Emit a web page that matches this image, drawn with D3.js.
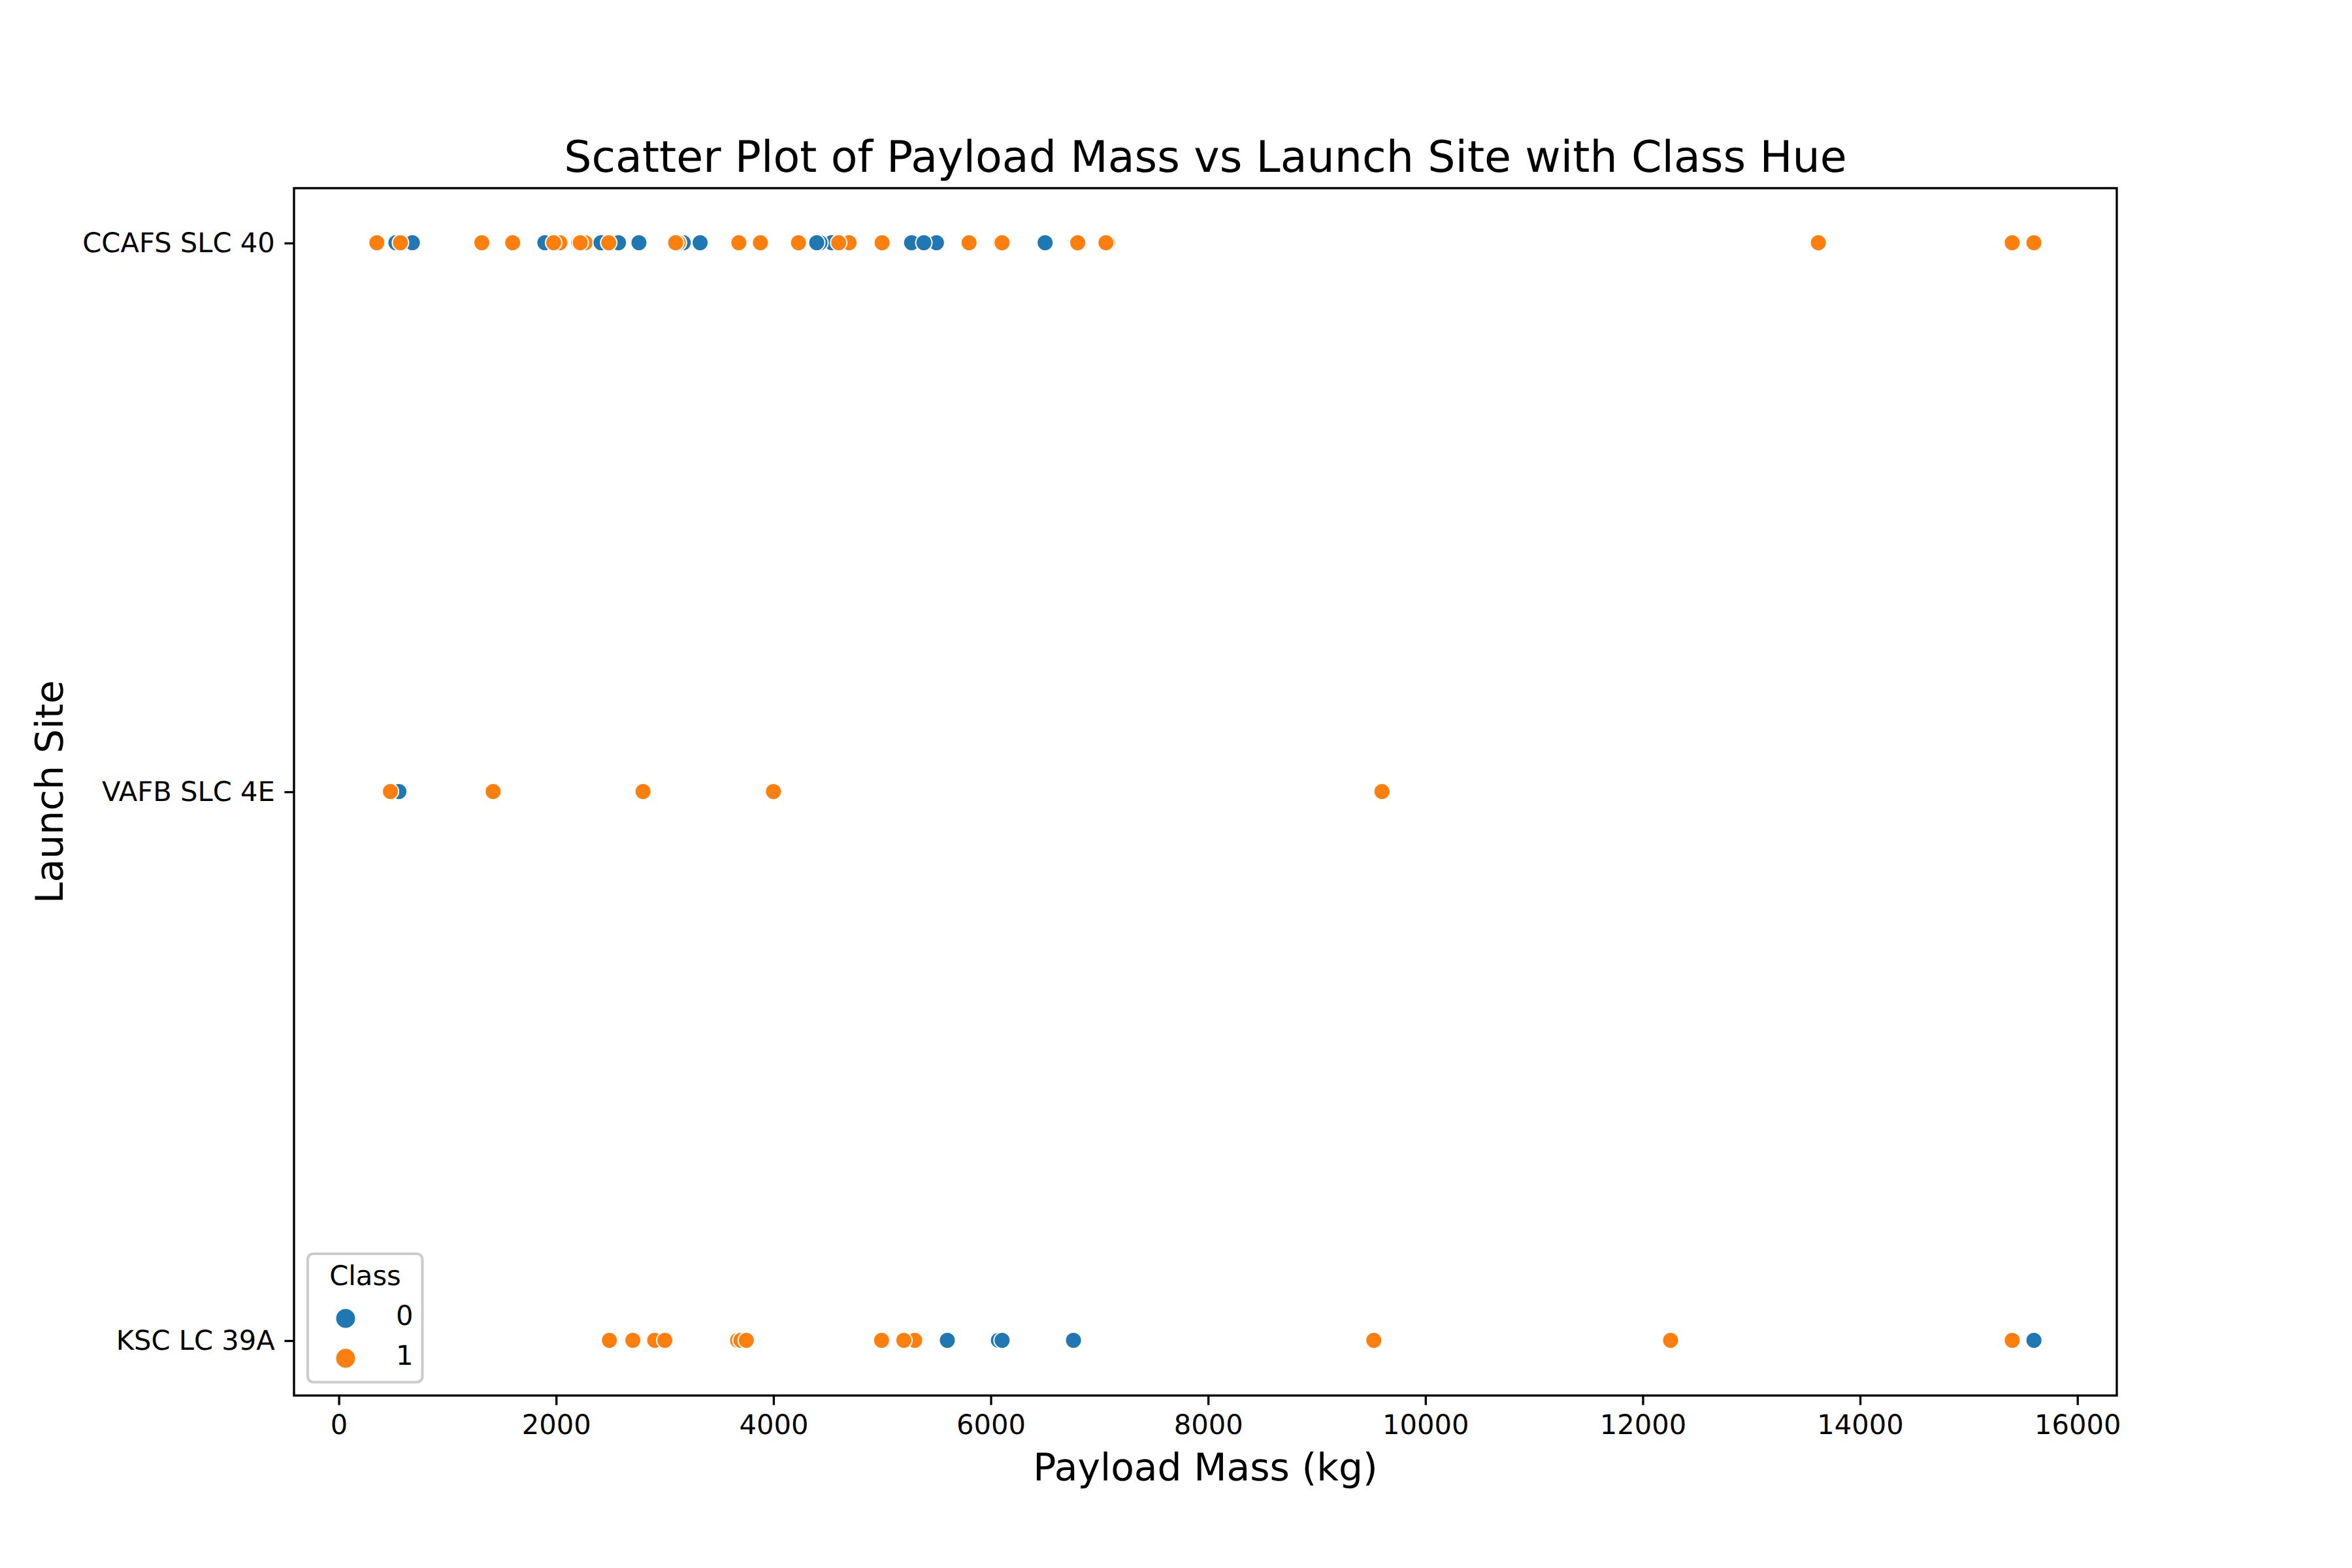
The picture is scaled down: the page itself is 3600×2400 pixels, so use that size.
<!DOCTYPE html>
<html>
<head>
<meta charset="utf-8">
<script src="https://cdn.jsdelivr.net/npm/d3@7"></script>
<style>
html,body{margin:0;padding:0;background:#fff}
svg{display:block}
text{font-family:"DejaVu Sans";fill:#000;text-rendering:geometricPrecision}
</style>
</head>
<body>
<script>
const sites = ["CCAFS SLC 40", "VAFB SLC 4E", "KSC LC 39A"];
const classes = [0, 1];
const classColors = ["#1f77b4", "#ff7f0e"];
const xTicks = [0, 2000, 4000, 6000, 8000, 10000, 12000, 14000, 16000];

const ccafsMass = [525, 677, 567, 350, 1316, 1600, 1896, 2034, 1977, 2207, 2267, 2222, 2574, 2413, 2484, 2762, 3170, 3125, 3100, 3325, 3681, 3880, 4230, 4535, 4428, 4398, 4696, 4600, 5000, 5271, 5500, 5384, 5800, 6090, 6104, 6500, 6800, 7076, 7060, 13616, 15400, 15600];
const ccafsClass = [0, 0, 1, 1, 1, 1, 0, 1, 1, 1, 1, 1, 0, 0, 1, 0, 0, 1, 1, 0, 1, 1, 1, 0, 0, 0, 1, 1, 1, 0, 0, 0, 1, 1, 1, 0, 1, 1, 1, 1, 1, 1];
const vafbMass = [553, 475, 1420, 2800, 4000, 9600];
const vafbClass = [0, 1, 1, 1, 1, 1];
const kscMass = [2490, 2706, 2907, 3000, 3670, 3700, 3750, 4995, 5300, 5200, 5600, 6070, 6104, 6761, 9525, 12256, 15400, 15600];
const kscClass = [1, 1, 1, 1, 1, 1, 1, 1, 1, 1, 0, 0, 0, 0, 1, 1, 1, 0];

const titleText = "Scatter Plot of Payload Mass vs Launch Site with Class Hue";
const xLabel = "Payload Mass (kg)";
const yLabel = "Launch Site";
const legendTitle = "Class";

const W = 3600, H = 2400;
const L = 450, R = 3240, T = 288, B = 2136;
const lw = 3.33;

const svg = d3.select("body").append("svg").attr("width", W).attr("height", H).attr("viewBox", `0 0 ${W} ${H}`);
svg.append("rect").attr("width", W).attr("height", H).attr("fill", "#fff");

const x = d3.scaleLinear().domain([-412.5, 16362.5]).range([L, R]);
const y = d3.scalePoint().domain(sites).range([T, B]).padding(0.1);
const color = d3.scaleOrdinal().domain(classes).range(classColors);

const pts = [];
[[sites[0], ccafsMass, ccafsClass], [sites[1], vafbMass, vafbClass], [sites[2], kscMass, kscClass]].forEach(([s, m, c]) => {
  m.forEach((v, i) => pts.push({ site: s, mass: v, cls: c[i] }));
});

svg.append("g").attr("transform", "translate(0,-0.5)").selectAll("circle").data(pts).join("circle")
  .attr("cx", d => x(d.mass)).attr("cy", d => y(d.site)).attr("r", 12.5)
  .attr("fill", d => color(d.cls)).attr("stroke", "#fff").attr("stroke-width", 2);

const gx = svg.append("g").attr("transform", `translate(0,${B})`)
  .call(d3.axisBottom(x).tickValues(xTicks).tickFormat(d3.format("d")).tickSize(14.6).tickPadding(14.6));
const gy = svg.append("g").attr("transform", `translate(${L},0)`)
  .call(d3.axisLeft(y).tickSize(14.6).tickPadding(14.6));
[gx, gy].forEach(g => {
  g.select(".domain").remove();
  g.selectAll("line").attr("stroke", "#000").attr("stroke-width", lw);
  g.selectAll("text").attr("font-size", 41.67).attr("font-family", "DejaVu Sans").attr("fill", "#000");
});

svg.append("rect").attr("x", L).attr("y", T).attr("width", R - L).attr("height", B - T)
  .attr("fill", "none").attr("stroke", "#000").attr("stroke-width", lw);

svg.append("text").attr("x", (L + R) / 2).attr("y", 263).attr("text-anchor", "middle").attr("font-size", 66.67).text(titleText);
svg.append("text").attr("x", (L + R) / 2).attr("y", 2266).attr("text-anchor", "middle").attr("font-size", 58.33).text(xLabel);
svg.append("text").attr("transform", `translate(96,${(T + B) / 2}) rotate(-90)`).attr("text-anchor", "middle").attr("font-size", 58.33).text(yLabel);

const lg = svg.append("g");
lg.append("rect").attr("x", 471).attr("y", 1919).attr("width", 175.5).attr("height", 196.5).attr("rx", 8.3)
  .attr("fill", "#fff").attr("fill-opacity", 0.8).attr("stroke", "#cccccc").attr("stroke-width", 4.17);
lg.append("text").attr("x", 559).attr("y", 1967).attr("text-anchor", "middle").attr("font-size", 41.67).text(legendTitle);
const legendY = d3.scalePoint().domain(classes).range([2018, 2079]);
const items = lg.selectAll("g.item").data(classes).join("g").attr("class", "item");
items.append("circle").attr("cx", 529).attr("cy", d => legendY(d)).attr("r", 15.5)
  .attr("fill", d => color(d)).attr("stroke", "#fff").attr("stroke-width", 2);
items.append("text").attr("x", 606).attr("y", d => legendY(d) + 10).attr("font-size", 41.67).text(d => d);
</script>
</body>
</html>
